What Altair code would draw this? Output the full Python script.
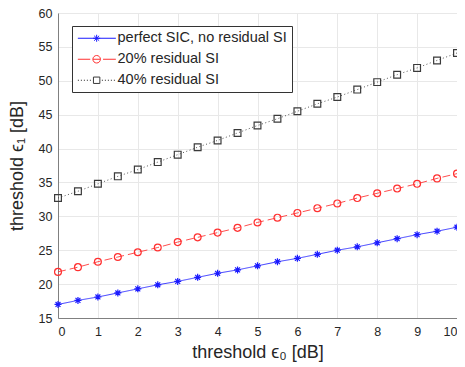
import altair as alt
import pandas as pd

x_vals = [0, 0.5, 1, 1.5, 2, 2.5, 3, 3.5, 4, 4.5, 5, 5.5, 6, 6.5, 7, 7.5, 8, 8.5, 9, 9.5, 10]
perfect_sic = [17.0, 17.6, 18.1, 18.7, 19.3, 19.9, 20.4, 21.0, 21.6, 22.1, 22.7,
               23.3, 23.8, 24.4, 25.0, 25.5, 26.1, 26.7, 27.3, 27.8, 28.4]
residual_20 = [21.8, 22.5, 23.3, 24.0, 24.7, 25.4, 26.2, 26.9, 27.6, 28.3, 29.1,
               29.8, 30.5, 31.2, 31.9, 32.7, 33.4, 34.1, 34.8, 35.6, 36.3]
residual_40 = [32.7, 33.7, 34.8, 35.9, 36.9, 38.0, 39.1, 40.2, 41.2, 42.3, 43.4,
               44.4, 45.5, 46.6, 47.6, 48.7, 49.8, 50.9, 51.9, 53.0, 54.1]
series_names = ["perfect SIC, no residual SI", "20% residual SI", "40% residual SI"]
x_ticks = [0, 1, 2, 3, 4, 5, 6, 7, 8, 9, 10]
y_ticks = [15, 20, 25, 30, 35, 40, 45, 50, 55, 60]

rows = []
for name, ys in zip(series_names, [perfect_sic, residual_20, residual_40]):
    for xv, yv in zip(x_vals, ys):
        rows.append({"x": xv, "y": yv, "series": name})
df = pd.DataFrame(rows)

colors = ["#1a1aff", "#ff3030", "#3a3a3a"]
dashes = [[1, 0], [8, 4], [1, 2.5]]

asterisk = "M-1,0L1,0M0,-1L0,1M-0.7,-0.7L0.7,0.7M-0.7,0.7L0.7,-0.7"
marker_shapes = [asterisk, "circle", "square"]

# legend symbols: line sample + marker, unit = 4px
m = 3.1
r = 0.875
leg_star = (f"M-1.6,0H7.9M{m-r},0H{m+r}M{m},{-r}V{r}"
            f"M{m-0.62},{-0.62}L{m+0.62},{0.62}M{m-0.62},{0.62}L{m+0.62},{-0.62}")
rc = 0.94
leg_circle = (f"M-1.6,0H1.5M{m-rc},0H{m+rc}M4.7,0H7.9"
              f"M{m+rc},0A{rc},{rc} 0 1,1 {m-rc},0A{rc},{rc} 0 1,1 {m+rc},0")
dots = ""
p = -1.6
while p < 7.9:
    if not (m - 1.2 < p < m + 1.0):
        dots += f"M{p:.2f},0H{p+0.28:.2f}"
    p += 0.75
sq = 0.8
leg_square = dots + f"M{m-sq},{-sq}H{m+sq}V{sq}H{m-sq}Z"
legend_shapes = [leg_star, leg_circle, leg_square]

font = "Liberation Sans"

xenc = alt.X("x:Q", scale=alt.Scale(domain=[0, 10], nice=False),
             axis=alt.Axis(values=x_ticks, title="threshold ϵ₀ [dB]", format="d"))
yenc = alt.Y("y:Q", scale=alt.Scale(domain=[15, 60], nice=False),
             axis=alt.Axis(values=y_ticks, title="threshold ϵ₁ [dB]", format="d"))

color_scale = alt.Scale(domain=series_names, range=colors)

base = alt.Chart(df)

lines = base.mark_line(strokeWidth=1, opacity=0.85).encode(
    x=xenc, y=yenc,
    color=alt.Color("series:N", scale=color_scale, legend=None),
    strokeDash=alt.StrokeDash("series:N", scale=alt.Scale(domain=series_names, range=dashes), legend=None),
)

points = base.mark_point(filled=False, strokeWidth=1.2, opacity=1).encode(
    x=xenc, y=yenc,
    color=alt.Color("series:N", scale=color_scale, legend=None),
    shape=alt.Shape("series:N", scale=alt.Scale(domain=series_names, range=marker_shapes), legend=None),
    size=alt.Size("series:N", scale=alt.Scale(domain=series_names, range=[49, 46, 40]), legend=None),
)

leg = alt.Legend(
    title=None, orient="none", legendX=14, legendY=13,
    symbolSize=64, symbolStrokeWidth=1, labelOffset=26, labelLimit=400,
    labelFont=font, labelFontSize=14.5, labelColor="#262626",
    strokeColor="#333333", fillColor="white", padding=5, rowPadding=6,
    symbolOpacity=1,
)

legend_layer = base.transform_filter("datum.x < -100").mark_point(filled=False, strokeWidth=1).encode(
    x=xenc, y=yenc,
    color=alt.Color("series:N", scale=color_scale, legend=leg),
    shape=alt.Shape("series:N", scale=alt.Scale(domain=series_names, range=legend_shapes), legend=leg),
)

chart = alt.layer(lines, points, legend_layer).resolve_scale(
    color="independent", shape="independent"
).properties(
    width=399, height=305,
    autosize=alt.AutoSizeParams(type="none"),
    padding={"left": 50, "top": 5, "right": 0, "bottom": 48},
).configure_view(
    stroke="#e6e6e6", strokeWidth=1
).configure_axis(
    labelFont=font, labelFontSize=12.5, labelColor="#262626",
    titleFont=font, titleFontSize=18, titleColor="#262626", titleFontWeight="normal",
    gridColor="#e8e8e8", gridWidth=1, domainColor="#808080", domainWidth=1,
    ticks=False,
).configure_axisX(
    labelPadding=7, titlePadding=6,
).configure_axisY(
    labelPadding=6, titlePadding=12,
)

chart.save("out.html", embed_options={"renderer": "svg", "actions": False})
